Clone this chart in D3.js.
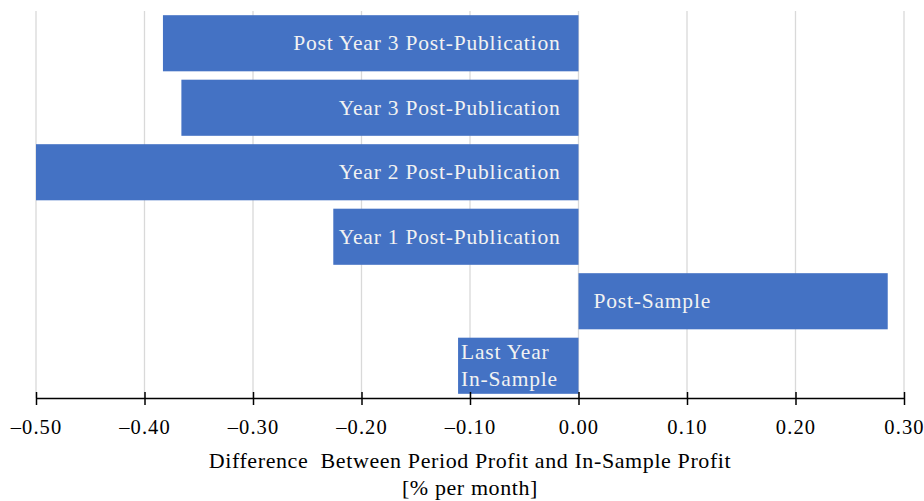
<!DOCTYPE html>
<html><head><meta charset="utf-8">
<script src="https://cdn.jsdelivr.net/npm/d3@7"></script>
<style>body{margin:0;background:#fff}svg{display:block}text{font-family:"Liberation Serif","Times New Roman",serif}</style>
</head><body><svg id="c" width="924" height="501"></svg>
<script>
const categories = ["Post Year 3 Post-Publication","Year 3 Post-Publication","Year 2 Post-Publication","Year 1 Post-Publication","Post-Sample","Last Year\nIn-Sample"];
const values = [-0.383, -0.366, -0.500, -0.226, 0.285, -0.111];
const tickValues = [-0.5,-0.4,-0.3,-0.2,-0.1,0,0.1,0.2,0.3];
const axisTitle = ["Difference  Between Period Profit and In-Sample Profit","[% per month]"];

const svg = d3.select("#c");
const x = d3.scaleLinear().domain([-0.5,0.3]).range([36,904]);
const y = d3.scaleBand().domain(categories).range([11,398]).paddingInner(0.13).paddingOuter(0.065);

// gridlines
svg.append("g").selectAll("line").data(tickValues).join("line")
  .attr("x1",d=>x(d)).attr("x2",d=>x(d)).attr("y1",11).attr("y2",398)
  .attr("stroke","#d9d9d9").attr("stroke-width",1.3);

// bars
svg.append("g").selectAll("rect").data(categories).join("rect")
  .attr("x",(d,i)=>x(Math.min(0,values[i])))
  .attr("width",(d,i)=>Math.abs(x(values[i])-x(0)))
  .attr("y",d=>y(d)).attr("height",y.bandwidth())
  .attr("fill","#4472C4");

// labels
const lab = svg.append("g").attr("fill","#f2f2f2").style("font-size","21.5px").style("letter-spacing","0.8px");
categories.forEach((c,i)=>{
  const v=values[i];
  const lines=c.split("\n");
  const cy=y(c)+y.bandwidth()/2;
  let tx, anchor;
  if(lines.length>1){ tx=x(v)+3; anchor="start"; }
  else if(v<0){ tx=x(0)-18; anchor="end"; }
  else { tx=x(0)+15; anchor="start"; }
  const t=lab.append("text").attr("text-anchor",anchor).attr("x",tx);
  lines.forEach((l,k)=>{
    t.append("tspan").attr("x",tx).attr("y",cy+(k-(lines.length-1)/2)*27).attr("dy","0.32em").text(l);
  });
});

// axis
const fmt = d=> (d<0?"\u2013":"")+Math.abs(d).toFixed(2);
const ax = svg.append("g").attr("transform","translate(0,398)")
  .call(d3.axisBottom(x).tickValues(tickValues).tickFormat(fmt).tickSize(6).tickSizeOuter(0));
ax.select(".domain").attr("stroke","#000").attr("stroke-width",1.5);
ax.selectAll(".tick line").attr("y1",-6).attr("y2",7).attr("stroke","#000").attr("stroke-width",1.5);
ax.selectAll(".tick text").attr("y",36).attr("dy","0").style("font-size","20.5px").style("letter-spacing","1.1px")
  .style("font-family","Liberation Serif, serif").attr("fill","#000");

svg.append("g").selectAll("text").data(axisTitle).join("text")
  .attr("x",470).attr("y",(d,i)=>468+i*27).attr("text-anchor","middle")
  .style("font-size","22px").style("letter-spacing","0.6px").attr("fill","#000").style("white-space","pre").text(d=>d);
</script></body></html>
